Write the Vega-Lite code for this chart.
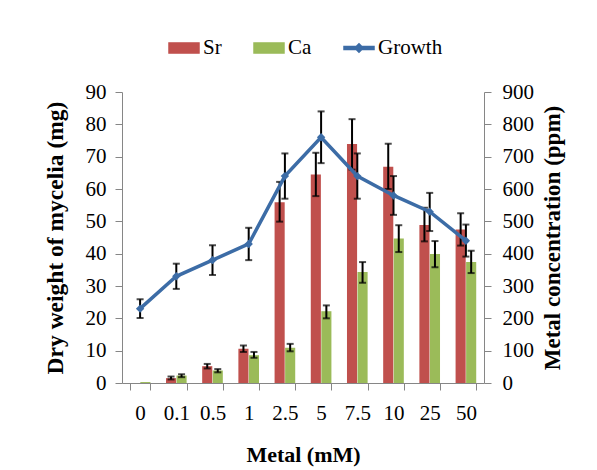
{
  "$schema": "https://vega.github.io/schema/vega-lite/v6.json",
  "autosize": {"type": "none"},
  "width": 362,
  "height": 291,
  "padding": {"left": 122, "top": 92, "right": 113, "bottom": 87},
  "background": "white",
  "config": {
    "font": "Liberation Serif",
    "view": {"stroke": null},
    "axis": {
      "labelFont": "Liberation Serif",
      "titleFont": "Liberation Serif",
      "labelFontSize": 21,
      "labelColor": "black",
      "titleColor": "black",
      "domainColor": "#868686",
      "tickColor": "#868686",
      "grid": false,
      "titleFontWeight": "bold"
    }
  },
  "datasets": {
    "metals": [
      {"metal": "0", "series": "Sr", "conc": 0, "lo": null, "hi": null},
      {"metal": "0", "series": "Ca", "conc": 3, "lo": null, "hi": null},
      {"metal": "0.1", "series": "Sr", "conc": 15, "lo": 11, "hi": 20},
      {"metal": "0.1", "series": "Ca", "conc": 23, "lo": 18, "hi": 27},
      {"metal": "0.5", "series": "Sr", "conc": 52, "lo": 45, "hi": 59},
      {"metal": "0.5", "series": "Ca", "conc": 39, "lo": 33, "hi": 43},
      {"metal": "1", "series": "Sr", "conc": 106, "lo": 96, "hi": 116},
      {"metal": "1", "series": "Ca", "conc": 86, "lo": 78, "hi": 96},
      {"metal": "2.5", "series": "Sr", "conc": 559, "lo": 499, "hi": 622},
      {"metal": "2.5", "series": "Ca", "conc": 109, "lo": 98, "hi": 121},
      {"metal": "5", "series": "Sr", "conc": 645, "lo": 578, "hi": 712},
      {"metal": "5", "series": "Ca", "conc": 222, "lo": 200, "hi": 240},
      {"metal": "7.5", "series": "Sr", "conc": 739, "lo": 660, "hi": 816},
      {"metal": "7.5", "series": "Ca", "conc": 343, "lo": 310, "hi": 374},
      {"metal": "10", "series": "Sr", "conc": 669, "lo": 600, "hi": 740},
      {"metal": "10", "series": "Ca", "conc": 447, "lo": 405, "hi": 488},
      {"metal": "25", "series": "Sr", "conc": 489, "lo": 438, "hi": 542},
      {"metal": "25", "series": "Ca", "conc": 399, "lo": 358, "hi": 439},
      {"metal": "50", "series": "Sr", "conc": 475, "lo": 425, "hi": 525},
      {"metal": "50", "series": "Ca", "conc": 374, "lo": 340, "hi": 409}
    ],
    "growth": [
      {"metal": "0", "dw": 23, "lo": 20.1, "hi": 25.9},
      {"metal": "0.1", "dw": 33, "lo": 29.1, "hi": 36.9},
      {"metal": "0.5", "dw": 38, "lo": 33.4, "hi": 42.6},
      {"metal": "1", "dw": 43, "lo": 38, "hi": 48},
      {"metal": "2.5", "dw": 64, "lo": 57, "hi": 71},
      {"metal": "5", "dw": 76, "lo": 68, "hi": 84},
      {"metal": "7.5", "dw": 64, "lo": 57, "hi": 71},
      {"metal": "10", "dw": 58, "lo": 52, "hi": 64},
      {"metal": "25", "dw": 53, "lo": 47, "hi": 58.8},
      {"metal": "50", "dw": 44, "lo": 39.1, "hi": 49}
    ]
  },
  "encoding": {
    "x": {
      "field": "metal",
      "type": "nominal",
      "sort": ["0", "0.1", "0.5", "1", "2.5", "5", "7.5", "10", "25", "50"],
      "scale": {"paddingInner": 0.43, "paddingOuter": 0.215},
      "axis": {
        "title": "Metal (mM)",
        "labelAngle": 0,
        "tickBand": "extent",
        "tickSize": 7,
        "labelPadding": 12,
        "titleFontSize": 22,
        "titlePadding": 21
      }
    }
  },
  "layer": [
    {
      "data": {"name": "metals"},
      "encoding": {
        "xOffset": {"field": "series", "type": "nominal", "sort": ["Sr", "Ca"], "scale": {"paddingInner": 0.04}},
        "y": {
          "type": "quantitative",
          "scale": {"domain": [0, 900]},
          "axis": {
            "orient": "right",
            "title": "Metal concentration (ppm)",
            "values": [0, 100, 200, 300, 400, 500, 600, 700, 800, 900],
            "tickSize": 7,
            "labelPadding": 11,
            "titleFontSize": 23,
            "titleAngle": 270,
            "titleBaseline": "top",
            "titlePadding": 8
          }
        }
      },
      "layer": [
        {
          "mark": {"type": "bar"},
          "encoding": {
            "y": {"field": "conc", "type": "quantitative"},
            "color": {
              "field": "series",
              "type": "nominal",
              "scale": {"domain": ["Sr", "Ca", "Growth"], "range": ["#C0504D", "#9BBB59", "#3C6CA6"]},
              "legend": {
                "title": null,
                "orient": "none",
                "direction": "horizontal",
                "legendX": 46,
                "legendY": -60,
                "labelFontSize": 21,
                "labelFont": "Liberation Serif",
                "labelColor": "black",
                "labelOffset": 3,
                "columnPadding": 29,
                "symbolSize": 900,
                "encode": {
                  "symbols": {
                    "update": {
                      "shape": {"signal": "datum.value === 'Growth' ? 'M-1,-0.1H1V0.1H-1Z M0,-0.28L0.28,0L0,0.28L-0.28,0Z' : 'M-1,-0.34H1V0.34H-1Z'"},
                      "fill": {"scale": "color", "field": "value"},
                      "stroke": {"value": "transparent"},
                      "opacity": {"value": 1},
                      "fillOpacity": {"value": 1},
                      "size": {"value": 900}
                    }
                  }
                }
              }
            }
          }
        },
        {
          "mark": {"type": "rule", "color": "black", "strokeWidth": 2},
          "encoding": {
            "y": {"field": "lo", "type": "quantitative"},
            "y2": {"field": "hi"}
          }
        },
        {
          "mark": {"type": "tick", "color": "black", "size": 7, "thickness": 2},
          "encoding": {"y": {"field": "lo", "type": "quantitative"}}
        },
        {
          "mark": {"type": "tick", "color": "black", "size": 7, "thickness": 2},
          "encoding": {"y": {"field": "hi", "type": "quantitative"}}
        }
      ]
    },
    {
      "data": {"name": "growth"},
      "encoding": {
        "y": {
          "type": "quantitative",
          "scale": {"domain": [0, 90]},
          "axis": {
            "orient": "left",
            "title": "Dry weight of mycelia (mg)",
            "values": [0, 10, 20, 30, 40, 50, 60, 70, 80, 90],
            "tickSize": 7,
            "labelPadding": 9,
            "titleFontSize": 23.5,
            "titlePadding": 18
          }
        }
      },
      "layer": [
        {
          "mark": {"type": "rule", "color": "black", "strokeWidth": 2},
          "encoding": {
            "y": {"field": "lo", "type": "quantitative"},
            "y2": {"field": "hi"}
          }
        },
        {
          "mark": {"type": "tick", "color": "black", "size": 7, "thickness": 2},
          "encoding": {"y": {"field": "lo", "type": "quantitative"}}
        },
        {
          "mark": {"type": "tick", "color": "black", "size": 7, "thickness": 2},
          "encoding": {"y": {"field": "hi", "type": "quantitative"}}
        },
        {
          "mark": {"type": "line", "strokeWidth": 3.5, "point": {"shape": "diamond", "size": 70, "filled": true}},
          "encoding": {
            "y": {"field": "dw", "type": "quantitative"},
            "color": {"datum": "Growth"}
          }
        }
      ]
    }
  ],
  "resolve": {"scale": {"y": "independent"}, "axis": {"y": "independent"}}
}
